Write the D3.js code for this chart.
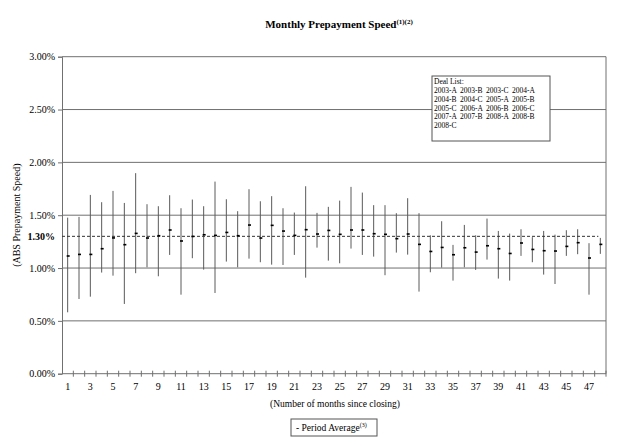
<!DOCTYPE html>
<html><head><meta charset="utf-8">
<script src="https://cdn.jsdelivr.net/npm/d3@7"></script>
<style>
body{margin:0;background:#fff;}
svg text{font-family:"Liberation Serif","Times New Roman",serif;fill:#000;}
</style></head>
<body><svg id="c" width="619" height="442"></svg>
<script>
const months = d3.range(1, 49);
const highs = [1.477,1.484,1.692,1.623,1.730,1.616,1.898,1.604,1.585,1.689,1.566,1.648,1.585,1.818,1.651,1.538,1.746,1.632,1.680,1.566,1.525,1.774,1.522,1.579,1.638,1.768,1.714,1.595,1.595,1.519,1.661,1.519,1.310,1.443,1.219,1.408,1.310,1.468,1.351,1.326,1.367,1.292,1.351,1.316,1.358,1.367,1.235,1.285];
const lows = [0.581,0.707,0.729,0.957,0.928,0.660,0.951,1.007,0.922,1.124,0.748,1.093,0.985,0.764,1.061,1.007,1.089,1.055,1.032,1.029,1.124,0.909,1.193,1.070,1.045,1.184,1.124,1.108,0.932,1.146,1.127,0.777,0.960,1.004,0.881,1.007,0.982,1.080,0.900,0.881,1.115,1.055,0.938,0.849,1.115,1.131,0.748,1.134];
const averages = [1.112,1.127,1.127,1.181,1.283,1.219,1.326,1.282,1.304,1.358,1.254,1.297,1.313,1.307,1.335,1.304,1.405,1.282,1.402,1.348,1.307,1.361,1.320,1.354,1.317,1.358,1.358,1.323,1.317,1.276,1.320,1.222,1.155,1.193,1.124,1.190,1.149,1.209,1.181,1.136,1.235,1.174,1.162,1.159,1.203,1.238,1.093,1.222];
const periodAverage = 1.30;
const yTicks = [0, 0.5, 1.0, 1.5, 2.0, 2.5, 3.0];
const xLabels = months.filter(m => m % 2 === 1);
const deals = ["2003-A","2003-B","2003-C","2004-A","2004-B","2004-C","2005-A","2005-B","2005-C","2006-A","2006-B","2006-C","2007-A","2007-B","2008-A","2008-B","2008-C"];

const svg = d3.select("#c");
const L = 62, R = 606, T = 56.7, B = 373.7;
const x = d3.scaleBand().domain(months).range([L, R]).padding(0);
const y = d3.scaleLinear().domain([0, 3]).range([B, T]);
const grid = "#707070";

// gridlines
svg.append("g").selectAll("line").data(yTicks.filter(d => d > 0)).join("line")
  .attr("x1", L).attr("x2", R).attr("y1", d => y(d)).attr("y2", d => y(d))
  .attr("stroke", grid).attr("stroke-width", 1);
// right border
svg.append("line").attr("x1", R).attr("x2", R).attr("y1", T).attr("y2", B).attr("stroke", grid);

// y axis
const ya = svg.append("g").attr("transform", `translate(${L},0)`)
  .call(d3.axisLeft(y).tickValues(yTicks).tickFormat(d => d.toFixed(2) + "%").tickSize(4).tickPadding(3));
ya.select(".domain").attr("stroke", grid);
ya.selectAll(".tick line").attr("stroke", grid);
ya.selectAll("text").style("font-size", "10px").style("font-family", "Liberation Serif, serif");

// x axis baseline and boundary ticks
svg.append("line").attr("x1", L).attr("x2", R).attr("y1", B).attr("y2", B).attr("stroke", grid);
const bounds = months.map(m => x(m)).concat([R]);
svg.append("g").selectAll("line").data(bounds.slice(1)).join("line")
  .attr("x1", d => d).attr("x2", d => d).attr("y1", B - 3).attr("y2", B + 3)
  .attr("stroke", grid);
const xa = svg.append("g").attr("transform", `translate(0,${B})`)
  .call(d3.axisBottom(x).tickValues(xLabels).tickSize(0).tickPadding(9));
xa.select(".domain").remove();
xa.selectAll("text").style("font-size", "10px").style("font-family", "Liberation Serif, serif");

// range bars
svg.append("g").selectAll("line").data(months).join("line")
  .attr("x1", (d) => x(d) + x.bandwidth() / 2).attr("x2", (d) => x(d) + x.bandwidth() / 2)
  .attr("y1", (d, i) => y(highs[i])).attr("y2", (d, i) => y(lows[i]))
  .attr("stroke", "#5a5a5a").attr("stroke-width", 1);

// period average dashed line
svg.append("line").attr("x1", L).attr("x2", x(48) + x.bandwidth() / 2 - 2)
  .attr("y1", y(periodAverage)).attr("y2", y(periodAverage))
  .attr("stroke", "#333").attr("stroke-width", 1).attr("stroke-dasharray", "3,2");

// average markers
svg.append("g").selectAll("rect").data(months).join("rect")
  .attr("x", d => x(d) + x.bandwidth() / 2 - 1).attr("width", 3)
  .attr("y", (d, i) => y(averages[i]) - 1).attr("height", 1.6)
  .attr("fill", "#000");

// 1.30% label
svg.append("text").attr("x", 55).attr("y", y(periodAverage)).attr("dy", "0.35em")
  .attr("text-anchor", "end").style("font-size", "10px").style("font-weight", "bold")
  .text(d3.format(".2%")(periodAverage / 100));

// title
const t = svg.append("text").attr("x", 339).attr("y", 28).attr("text-anchor", "middle")
  .style("font-size", "11px").style("font-weight", "bold");
t.append("tspan").text("Monthly Prepayment Speed");
t.append("tspan").attr("dy", -4).style("font-size", "7px").text("(1)(2)");

// y title
svg.append("text").attr("transform", `translate(20,${(T + B) / 2}) rotate(-90)`)
  .attr("text-anchor", "middle").style("font-size", "10px").text("(ABS Prepayment Speed)");

// x title
svg.append("text").attr("x", 335).attr("y", 407).attr("text-anchor", "middle")
  .style("font-size", "9.5px").text("(Number of months since closing)");

// legend
svg.append("rect").attr("x", 291).attr("y", 419).attr("width", 86).attr("height", 17)
  .attr("fill", "#fff").attr("stroke", "#555");
const lt = svg.append("text").attr("x", 296).attr("y", 431).style("font-size", "9.5px");
lt.append("tspan").text("- Period Average");
lt.append("tspan").attr("dy", -4).style("font-size", "6px").text("(3)");

// deal list box
svg.append("rect").attr("x", 432).attr("y", 76).attr("width", 118).attr("height", 65)
  .attr("fill", "#fff").attr("stroke", "#555");
svg.append("text").attr("x", 434).attr("y", 84).style("font-size", "7.5px").text("Deal List:");
svg.append("g").selectAll("text").data(deals).join("text")
  .attr("x", (d, i) => 434 + (i % 4) * 26).attr("y", (d, i) => 93 + Math.floor(i / 4) * 8.8)
  .style("font-size", "7.5px").text(d => d);
</script></body></html>
